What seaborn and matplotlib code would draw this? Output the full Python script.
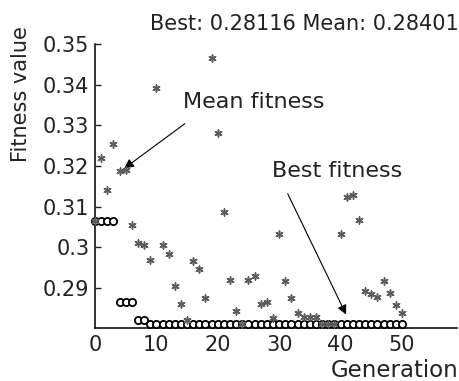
import pandas as pd
import numpy as np
import matplotlib.pyplot as plt
import seaborn as sns

sns.set_theme(style="white")
plt.rcParams['font.family'] = ['DejaVu Sans']

generation = list(range(51))
best_fitness = [0.3065, 0.3065, 0.3065, 0.3065, 0.2865, 0.2865, 0.2865, 0.2821, 0.2821,
                0.28116, 0.28116, 0.28116, 0.28116, 0.28116, 0.28116, 0.28116, 0.28116,
                0.28116, 0.28116, 0.28116, 0.28116, 0.28116, 0.28116, 0.28116, 0.28116,
                0.28116, 0.28116, 0.28116, 0.28116, 0.28116, 0.28116, 0.28116, 0.28116,
                0.28116, 0.28116, 0.28116, 0.28116, 0.28116, 0.28116, 0.28116, 0.28116,
                0.28116, 0.28116, 0.28116, 0.28116, 0.28116, 0.28116, 0.28116, 0.28116,
                0.28116, 0.28116]
mean_fitness = [0.3066, 0.3219, 0.3141, 0.3254, 0.3187, 0.3190, 0.3055, 0.3012, 0.3007,
                0.2969, 0.3392, 0.3007, 0.2985, 0.2905, 0.2862, 0.2821, 0.2966, 0.2947,
                0.2875, 0.3466, 0.3282, 0.3086, 0.2921, 0.2845, 0.2812, 0.2921, 0.2930,
                0.2862, 0.2865, 0.2826, 0.3032, 0.2918, 0.2877, 0.2838, 0.2829, 0.2829,
                0.2828, 0.2812, 0.2812, 0.2812, 0.3034, 0.3123, 0.3128, 0.3067, 0.2893,
                0.2885, 0.2879, 0.2917, 0.2887, 0.2858, 0.28401]
x_ticks = [0, 10, 20, 30, 40, 50]
y_ticks = [0.29, 0.30, 0.31, 0.32, 0.33, 0.34, 0.35]
y_tick_labels = ['0.29', '0.3', '0.31', '0.32', '0.33', '0.34', '0.35']

df = pd.DataFrame({'gen': generation, 'best': best_fitness, 'mean': mean_fitness})

fig = plt.figure(figsize=(4.59, 3.81), dpi=100)
ax = fig.add_axes([0.207, 0.139, 0.789, 0.746])

sns.scatterplot(data=df, x='gen', y='best', marker='o', s=27, facecolor='white',
                edgecolor='black', linewidth=1.3, zorder=3, ax=ax, clip_on=False)
sns.scatterplot(data=df, x='gen', y='mean', marker=(6, 2, 0), s=26, color='#5c5c5c',
                edgecolor='#5c5c5c', linewidth=1.1, zorder=4, ax=ax, clip_on=False)

ax.set_xlim(0, 59)
ax.set_ylim(0.2802, 0.35)
ax.set_xticks(x_ticks)
ax.set_yticks(y_ticks)
ax.set_yticklabels(y_tick_labels)
ax.set_xlabel('')
ax.set_ylabel('')
ax.tick_params(axis='both', direction='in', length=4, width=1, labelsize=15, colors='#222222')
ax.tick_params(axis='x', pad=5)
ax.tick_params(axis='y', pad=4, left=True)
ax.tick_params(axis='x', bottom=False)
for side in ['top', 'right']:
    ax.spines[side].set_visible(False)
for side in ['left', 'bottom']:
    ax.spines[side].set_color('#111111')
    ax.spines[side].set_linewidth(1.2)

ax.annotate('', xy=(4.4, 0.3190), xytext=(15.0, 0.3308),
            arrowprops=dict(arrowstyle='-|>', color='black', lw=0.8, mutation_scale=14))
ax.text(14.3, 0.3342, 'Mean fitness', fontsize=16, color='#222222', ha='left', va='baseline')
ax.annotate('', xy=(41.1, 0.2829), xytext=(31.2, 0.3138),
            arrowprops=dict(arrowstyle='-|>', color='black', lw=0.8, mutation_scale=14))
ax.text(28.8, 0.3173, 'Best fitness', fontsize=16, color='#222222', ha='left', va='baseline')

fig.text(150 / 459, 1 - 30 / 381, 'Best: 0.28116 Mean: 0.28401', fontsize=15,
         color='#222222', ha='left', va='baseline')
fig.text(21 / 459, 1 - 94 / 381, 'Fitness value', fontsize=15, color='#222222',
         rotation=90, ha='center', va='center')
fig.text(458 / 459, 1 - 377 / 381, 'Generation', fontsize=16.5, color='#222222',
         ha='right', va='baseline')

fig.savefig('out.png', dpi=100)
